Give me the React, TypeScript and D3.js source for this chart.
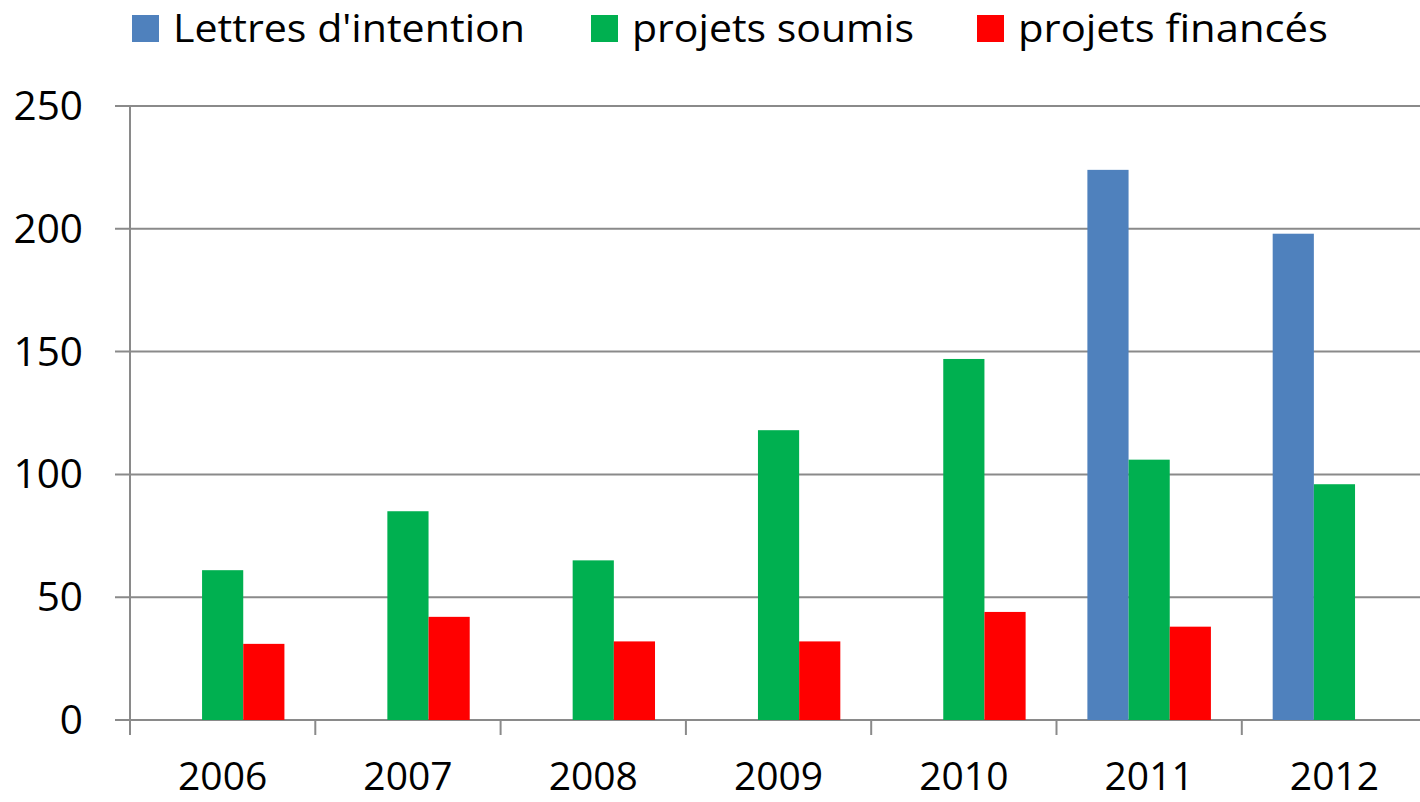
import React from "react";
import * as d3 from "d3";

const categories = ["2006", "2007", "2008", "2009", "2010", "2011", "2012"];
const seriesNames = ["Lettres d'intention", "projets soumis", "projets financés"];
const seriesColors = ["#4F81BD", "#00B050", "#FF0000"];
const lettres: (number | null)[] = [null, null, null, null, null, 224, 198];
const soumis: (number | null)[] = [61, 85, 65, 118, 147, 106, 96];
const finances: (number | null)[] = [31, 42, 32, 32, 44, 38, null];
const yTicks = [0, 50, 100, 150, 200, 250];

const W = 1420;
const H = 802;
const left = 130;
const catW = 185.3;
const top = 106;
const bottom = 720;
const font = "'Open Sans', sans-serif";

export default function App() {
  const series = [lettres, soumis, finances];
  const x = d3
    .scaleBand<string>()
    .domain(categories)
    .range([left, left + catW * categories.length])
    .paddingInner(0)
    .paddingOuter(0);
  const y = d3.scaleLinear().domain([0, 250]).range([bottom, top]);
  const barW = catW / 4.5;
  const gap = (catW - 3 * barW) / 2;

  const legendX = [132, 591, 977];
  const legendLen = [352, 282, 310];

  return (
    <svg
      width={W}
      height={H}
      style={{ position: "absolute", left: 0, top: 0, background: "#fff" }}
    >
      {yTicks.map((t) => (
        <g key={t}>
          <line x1={115} x2={W} y1={y(t)} y2={y(t)} stroke="#8A8A8A" strokeWidth={2} />
          <text
            x={83}
            y={y(t) + 14}
            textAnchor="end"
            fontFamily={font}
            fontSize={40.5}
            fill="#000"
          >
            {t}
          </text>
        </g>
      ))}
      <line x1={left} x2={left} y1={top} y2={bottom + 15} stroke="#8A8A8A" strokeWidth={2} />
      {categories.map((c, i) => (
        <g key={c}>
          <line
            x1={(x(c) as number) + catW}
            x2={(x(c) as number) + catW}
            y1={bottom}
            y2={bottom + 15}
            stroke="#8A8A8A"
            strokeWidth={2}
          />
          {series.map((s, k) => {
            const v = s[i];
            if (v == null) return null;
            return (
              <rect
                key={k}
                x={(x(c) as number) + gap + k * barW}
                y={y(v)}
                width={barW}
                height={y(0) - y(v)}
                fill={seriesColors[k]}
              />
            );
          })}
          <text
            x={(x(c) as number) + catW / 2}
            y={790}
            textAnchor="middle"
            fontFamily={font}
            fontSize={39}
            fill="#000"
          >
            {c}
          </text>
        </g>
      ))}
      {seriesNames.map((n, k) => (
        <g key={n}>
          <rect x={legendX[k]} y={15} width={27} height={27} fill={seriesColors[k]} />
          <text
            x={legendX[k] + 41}
            y={42}
            fontFamily={font}
            fontSize={38}
            fill="#000"
            textLength={legendLen[k]}
            lengthAdjust="spacingAndGlyphs"
          >
            {n}
          </text>
        </g>
      ))}
    </svg>
  );
}
